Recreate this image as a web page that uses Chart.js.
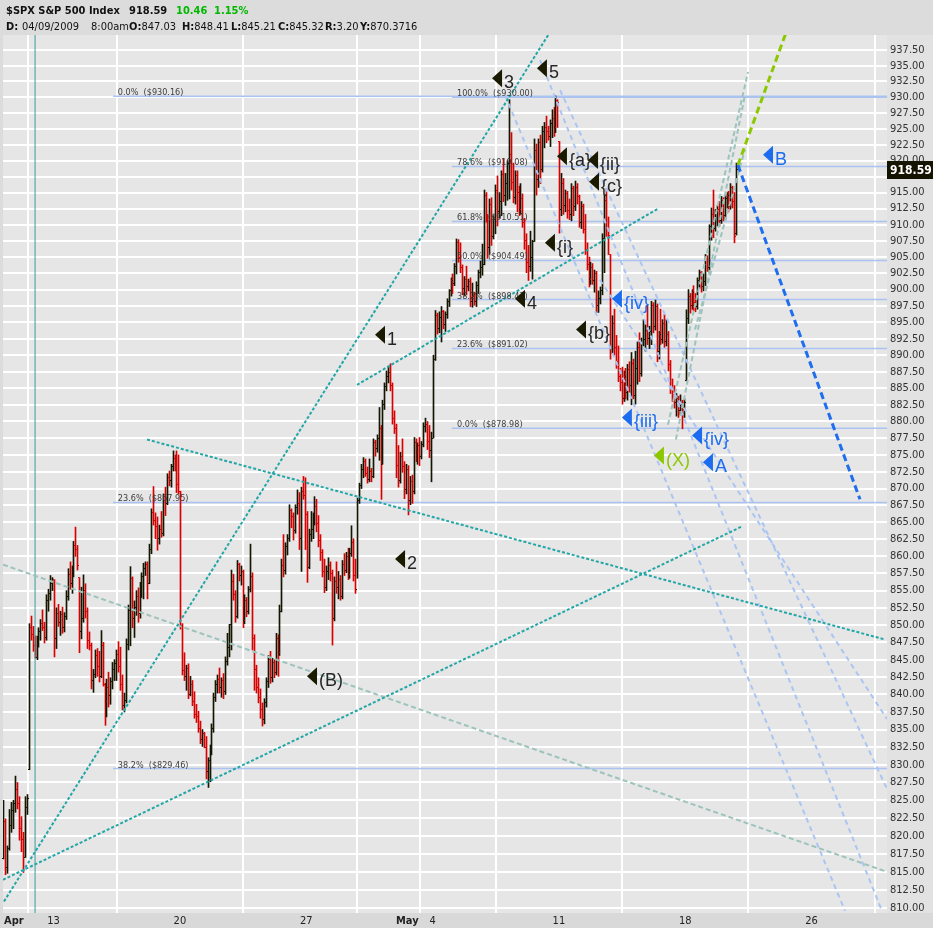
<!DOCTYPE html>
<html>
<head>
<meta charset="utf-8">
<script src="https://cdn.jsdelivr.net/npm/chart.js@4.4.1/dist/chart.umd.min.js"></script>
<style>
body { margin: 0; background: #dcdcdc; }
#wrap { position: relative; width: 933px; height: 928px; overflow: hidden; }
canvas { position: absolute; left: 0; top: 0; }
.hd { position: absolute; font-family: "DejaVu Sans Condensed", "DejaVu Sans", sans-serif; font-size: 11px; color: #111; white-space: pre; }
.b { font-weight: bold; }
.g { color: #00b800; font-weight: bold; }
</style>
</head>
<body>
<div id="wrap">
<canvas id="myChart" width="933" height="928"></canvas>
<div class="hd b" style="top:4px;left:6px">$SPX S&amp;P 500 Index</div>
<div class="hd b" style="top:4px;left:129px">918.59</div>
<div class="hd g" style="top:4px;left:176px">10.46</div>
<div class="hd g" style="top:4px;left:214px">1.15%</div>
<div class="hd" style="top:20px;left:6px"><span class="b">D:</span></div>
<div class="hd" style="top:20px;left:22px">04/09/2009</div>
<div class="hd" style="top:20px;left:91px">8:00am</div>
<div class="hd" style="top:20px;left:129px"><span class="b">O:</span>847.03</div>
<div class="hd" style="top:20px;left:182px"><span class="b">H:</span>848.41</div>
<div class="hd" style="top:20px;left:231px"><span class="b">L:</span>845.21</div>
<div class="hd" style="top:20px;left:278px"><span class="b">C:</span>845.32</div>
<div class="hd" style="top:20px;left:325px"><span class="b">R:</span>3.20</div>
<div class="hd" style="top:20px;left:360px"><span class="b">Y:</span>870.3716</div>
</div>
<script>
// 30-minute bars, [open, high, low, close], 13 per session
const apr08 = [[816.8,825.0,816.8,822.0],[822.0,822.4,814.6,815.6],[815.6,818.6,814.8,818.2],[818.2,823.7,818.0,821.5],[821.5,824.7,820.5,823.5],[823.5,825.0,821.0,824.5],[824.5,828.4,823.3,826.5],[826.5,827.5,823.8,824.5],[824.5,825.5,819.4,821.0],[821.0,822.7,817.8,819.5],[819.5,820.5,814.9,817.0],[817.0,825.5,817.0,824.0],[824.0,825.8,823.0,825.2]];
const apr09 = [[829.3,850.2,829.3,849.6],[849.6,851.3,847.8,848.6],[848.6,849.8,846.2,847.0],[847.03,848.41,845.21,845.32],[845.3,848.4,845.0,847.8],[847.8,849.6,846.8,849.0],[849.0,850.8,847.8,850.2],[850.2,852.2,849.2,849.6],[849.6,850.4,847.4,848.2],[848.2,854.4,847.8,853.6],[853.6,855.2,852.0,854.6],[854.6,857.2,853.6,856.0],[856.0,856.9,855.0,856.6]];
const apr13 = [[856.6,856.6,845.4,848.0],[848.0,852.5,846.6,851.6],[851.6,853.0,849.8,850.4],[850.4,852.0,848.5,851.5],[851.5,852.6,848.8,849.6],[849.6,851.8,849.0,851.2],[851.2,855.0,850.8,854.2],[854.2,858.2,853.6,857.4],[857.4,859.2,855.2,856.0],[856.0,858.6,854.6,857.6],[857.6,862.2,857.0,861.6],[861.6,864.3,860.0,861.0],[861.0,861.6,858.0,858.7]];
const apr14 = [[856.9,856.9,846.0,849.0],[849.0,855.5,848.0,851.0],[851.0,857.3,850.4,855.0],[855.0,856.0,851.0,852.0],[852.0,852.5,846.6,847.8],[847.8,849.0,846.4,847.0],[847.0,847.4,840.8,842.0],[842.0,843.6,840.3,842.8],[842.8,846.4,842.4,845.6],[845.6,846.6,842.6,844.0],[844.0,846.2,841.8,842.6],[842.6,849.2,842.4,847.0],[847.0,847.5,841.2,841.5]];
const apr15 = [[841.5,841.6,835.6,839.0],[839.0,842.2,836.8,841.0],[841.0,843.2,838.2,839.8],[839.8,842.4,838.6,841.8],[841.8,844.6,840.8,843.6],[843.6,845.0,842.0,844.4],[844.4,846.4,842.0,845.8],[845.8,847.6,843.2,844.0],[844.0,846.8,840.6,841.4],[841.4,842.8,837.8,838.4],[838.4,840.2,837.5,839.2],[839.2,848.0,838.8,847.2],[847.2,852.9,846.4,852.1]];
const apr16 = [[852.1,858.5,847.0,856.8],[856.8,857.0,849.6,851.0],[851.0,853.5,848.2,852.5],[852.5,855.0,851.4,854.2],[854.2,855.4,850.4,851.6],[851.6,856.2,851.0,855.6],[855.6,857.6,854.0,857.0],[857.0,859.0,853.8,858.2],[858.2,859.2,857.2,858.8],[858.8,859.2,853.8,856.0],[856.0,861.8,856.0,861.0],[861.0,867.0,860.4,866.4],[866.4,870.3,864.6,865.3]];
const apr17 = [[865.3,866.4,862.6,864.4],[864.4,865.8,860.9,862.6],[862.6,864.6,861.8,864.0],[864.0,866.6,862.8,863.4],[863.4,869.2,863.0,868.8],[868.8,870.2,866.0,867.8],[867.8,872.2,867.6,871.6],[871.6,872.6,870.4,871.2],[871.2,873.6,870.2,873.2],[873.2,875.6,872.6,874.4],[874.4,875.0,872.6,873.4],[873.4,875.6,869.4,870.6],[870.6,875.0,869.2,869.6]];
const apr20 = [[869.6,869.6,849.4,850.0],[850.0,850.2,842.8,843.4],[843.4,846.0,842.0,842.6],[842.6,844.2,840.6,843.8],[843.8,844.4,839.4,840.0],[840.0,842.6,839.8,841.4],[841.4,842.0,838.4,839.0],[839.0,840.4,836.6,837.2],[837.2,838.6,836.0,836.8],[836.8,837.6,834.6,835.2],[835.2,836.2,833.0,833.6],[833.6,835.0,832.6,834.4],[834.4,834.6,832.4,832.4]];
const apr21 = [[832.4,834.0,828.0,829.0],[829.0,831.0,826.8,830.6],[830.6,832.8,827.6,832.0],[832.0,835.8,831.4,835.2],[835.2,840.2,834.6,839.6],[839.6,842.0,839.0,841.4],[841.4,842.8,840.2,842.2],[842.2,843.8,840.2,841.0],[841.0,842.4,839.6,842.0],[842.0,843.0,839.4,840.4],[840.4,845.4,840.0,844.8],[844.8,848.8,844.2,846.8],[846.8,850.1,845.4,850.1]];
const apr22 = [[850.1,858.0,846.4,856.4],[856.4,857.4,853.6,854.4],[854.4,855.0,850.4,851.2],[851.2,859.4,851.0,858.8],[858.8,859.0,856.4,857.2],[857.2,858.6,855.8,857.8],[857.8,858.0,849.6,850.6],[850.6,854.4,850.2,853.6],[853.6,854.0,851.2,852.0],[852.0,855.6,851.6,855.2],[855.2,861.8,854.8,857.0],[857.0,857.6,846.4,848.0],[848.0,848.6,840.6,843.6]];
const apr23 = [[843.6,844.2,840.2,841.0],[841.0,842.4,838.8,839.6],[839.6,840.8,836.6,837.8],[837.8,838.8,835.5,836.4],[836.4,839.4,835.8,838.8],[838.8,842.4,838.2,841.8],[841.8,845.6,841.0,845.0],[845.0,846.2,841.6,842.4],[842.4,845.2,841.8,844.6],[844.6,845.0,842.4,843.2],[843.2,848.8,842.8,848.0],[848.0,848.6,842.6,846.0],[846.0,852.9,845.6,851.9]];
const apr24 = [[851.9,859.6,851.9,858.6],[858.6,863.2,857.0,858.0],[858.0,862.0,857.4,861.4],[861.4,863.2,860.2,862.6],[862.6,867.6,862.2,866.8],[866.8,867.0,864.2,865.8],[865.8,866.4,862.4,863.8],[863.8,867.6,863.4,867.2],[867.2,869.8,866.2,867.8],[867.8,869.4,861.0,862.6],[862.6,870.2,857.8,869.6],[869.6,871.8,868.4,869.0],[869.0,871.6,861.0,866.2]];
const apr27 = [[866.2,866.6,856.2,858.4],[858.4,864.0,858.2,863.2],[863.2,866.6,862.2,864.0],[864.0,866.4,862.6,865.6],[865.6,868.8,864.6,867.4],[867.4,868.4,863.6,864.8],[864.8,866.0,861.4,862.4],[862.4,863.2,859.4,860.6],[860.6,861.0,857.0,857.8],[857.8,859.6,854.7,855.4],[855.4,858.6,855.0,857.8],[857.8,859.8,856.6,858.6],[858.6,859.2,856.4,857.5]];
const apr28 = [[857.5,858.0,847.1,851.0],[851.0,857.0,850.6,856.4],[856.4,859.2,854.6,855.4],[855.4,857.8,853.8,856.6],[856.6,857.2,853.6,854.2],[854.2,859.4,853.8,858.8],[858.8,860.4,857.2,858.0],[858.0,860.6,857.6,860.0],[860.0,861.2,856.6,857.4],[857.4,861.2,856.8,860.4],[860.4,864.5,860.0,862.0],[862.0,862.6,856.4,857.2],[857.2,859.6,854.6,855.2]];
const apr29 = [[855.2,868.6,856.8,868.2],[868.2,870.8,867.8,870.4],[870.4,873.6,870.0,872.8],[872.8,874.6,871.6,874.0],[874.0,874.4,871.8,872.2],[872.2,873.2,870.8,871.4],[871.4,874.4,871.0,872.6],[872.6,873.0,871.0,871.8],[871.8,877.4,871.6,876.8],[876.8,877.2,874.8,876.0],[876.0,878.0,875.4,877.4],[877.4,882.1,874.2,879.0],[879.0,879.4,868.4,873.6]];
const apr30 = [[873.6,883.2,873.6,882.6],[882.6,885.8,881.8,885.2],[885.2,887.6,884.6,886.8],[886.8,888.2,885.8,887.4],[887.4,888.7,884.6,885.4],[885.4,885.8,879.6,880.4],[880.4,881.6,878.2,879.0],[879.0,879.6,871.6,873.4],[873.4,876.4,870.2,871.2],[871.2,875.4,870.8,874.8],[874.8,877.4,872.4,873.2],[873.2,874.0,868.5,869.8],[869.8,873.6,869.2,872.8]];
const may01 = [[872.8,873.4,866.1,868.2],[868.2,871.8,867.6,871.0],[871.0,872.0,867.8,869.6],[869.6,877.6,869.2,876.8],[876.8,877.4,874.0,875.4],[875.4,876.8,873.6,876.4],[876.4,877.6,873.4,874.8],[874.8,877.0,874.4,876.6],[876.6,879.8,876.2,879.2],[879.2,880.5,878.4,879.6],[879.6,880.0,875.8,877.0],[877.0,879.4,874.6,875.6],[875.6,878.4,871.0,877.5]];
const may04 = [[877.5,890.0,877.5,889.4],[889.4,896.8,889.2,896.0],[896.0,896.4,893.2,894.0],[894.0,896.6,893.4,895.8],[895.8,897.4,892.0,896.6],[896.6,896.8,894.0,894.6],[894.6,896.6,893.6,896.2],[896.2,898.6,895.6,898.2],[898.2,900.0,897.4,899.8],[899.8,901.8,899.0,901.4],[901.4,902.4,899.4,901.0],[901.0,904.0,900.6,903.6],[903.6,907.8,902.4,907.2]];
const may05 = [[907.2,907.7,904.2,905.0],[905.0,907.2,902.6,903.4],[903.4,903.8,899.2,900.2],[900.2,902.0,899.0,901.6],[901.6,903.6,899.2,900.4],[900.4,901.6,899.8,901.2],[901.2,901.8,897.4,898.2],[898.2,901.0,897.3,899.0],[899.0,899.6,897.6,898.2],[898.2,901.2,897.4,900.6],[900.6,903.0,899.4,902.6],[902.6,904.4,901.8,903.4],[903.4,907.0,902.2,903.8]];
const may06 = [[903.8,915.4,903.8,914.6],[914.6,915.0,910.4,911.0],[911.0,911.6,904.8,906.4],[906.4,914.0,905.4,913.2],[913.2,914.2,906.8,908.2],[908.2,911.4,907.8,910.8],[910.8,916.2,908.6,915.4],[915.4,917.6,909.8,912.0],[912.0,915.0,911.0,913.6],[913.6,918.4,911.4,917.8],[917.8,920.3,913.6,914.6],[914.6,918.0,913.0,916.4],[916.4,920.0,913.8,919.5]];
const may07 = [[919.6,929.6,914.0,921.0],[921.0,924.4,915.4,916.6],[916.6,919.6,913.4,914.2],[914.2,918.4,913.2,917.6],[917.6,918.4,912.0,915.0],[915.0,916.0,911.4,912.4],[912.4,916.4,911.6,914.0],[914.0,914.8,909.6,910.4],[910.4,911.0,906.2,907.6],[907.6,908.6,902.6,904.2],[904.2,906.8,901.4,903.6],[903.6,909.0,902.8,905.0],[905.0,907.6,901.6,907.4]];
const may08 = [[907.4,923.4,907.4,921.6],[921.6,922.6,914.6,917.0],[917.0,923.4,915.8,922.8],[922.8,924.0,916.4,918.6],[918.6,925.4,918.2,924.6],[924.6,926.0,922.0,925.2],[925.2,927.0,922.8,924.6],[924.6,925.4,923.2,923.8],[923.8,926.4,922.2,925.8],[925.8,928.0,923.6,926.6],[926.6,928.4,923.8,925.2],[925.2,930.2,924.4,929.4],[929.4,929.6,925.2,929.2]];
const may11 = [[923.0,923.0,908.7,912.4],[912.4,918.0,911.4,916.4],[916.4,917.2,911.6,913.0],[913.0,915.4,912.0,914.8],[914.8,915.2,911.0,912.2],[912.2,914.0,910.8,911.6],[911.6,916.4,910.6,915.6],[915.6,916.0,911.4,912.8],[912.8,916.8,912.2,915.8],[915.8,916.4,913.2,914.4],[914.4,914.6,909.6,910.4],[910.4,913.6,909.4,912.8],[912.8,913.2,908.7,909.2]];
const may12 = [[909.2,911.6,905.4,906.2],[906.2,907.2,903.0,903.8],[903.8,905.0,900.4,901.6],[901.6,904.2,900.8,903.4],[903.4,904.0,900.8,901.4],[901.4,903.0,899.6,902.4],[902.4,902.8,896.5,897.6],[897.6,899.8,896.5,898.6],[898.6,900.4,897.8,899.8],[899.8,908.6,899.2,907.8],[907.8,914.6,902.6,913.8],[913.8,915.6,908.2,909.6],[909.6,911.2,905.4,908.4]];
const may13 = [[905.4,905.4,889.4,891.0],[891.0,896.0,890.2,894.8],[894.8,897.0,890.0,891.2],[891.2,893.0,888.0,889.0],[889.0,891.4,886.0,886.8],[886.8,888.0,884.6,885.8],[885.8,888.2,882.6,883.4],[883.4,887.6,883.0,886.8],[886.8,888.0,883.4,884.4],[884.4,888.6,883.2,887.8],[887.8,889.0,884.4,885.4],[885.4,890.4,882.5,888.8],[888.8,889.4,883.4,883.9]];
const may14 = [[883.9,890.6,882.6,888.0],[888.0,892.0,885.6,891.2],[891.2,893.4,886.0,887.2],[887.2,892.6,886.8,891.8],[891.8,895.4,891.4,892.4],[892.4,894.6,890.6,893.8],[893.8,897.6,891.6,892.6],[892.6,894.4,891.0,893.6],[893.6,898.2,891.6,897.6],[897.6,898.0,893.4,894.4],[894.4,898.4,893.8,897.4],[897.4,897.8,889.0,890.6],[890.6,893.6,889.4,893.1]];
const may15 = [[893.1,897.0,891.6,892.4],[892.4,895.4,891.8,894.8],[894.8,896.2,891.2,892.0],[892.0,895.4,891.4,893.2],[893.2,893.6,887.6,888.6],[888.6,889.2,884.2,885.0],[885.0,886.4,883.0,884.0],[884.0,885.4,882.0,882.8],[882.8,884.2,880.8,883.4],[883.4,883.8,880.6,881.6],[881.6,884.0,881.0,882.6],[882.6,883.2,878.9,881.8],[881.8,883.4,880.6,882.9]];
const may18 = [[886.1,896.9,886.1,895.6],[895.6,900.0,894.8,899.0],[899.0,899.4,896.4,897.6],[897.6,900.0,897.0,899.6],[899.6,900.6,896.8,898.0],[898.0,899.4,896.6,897.4],[897.4,901.8,897.0,901.4],[901.4,903.0,900.2,902.6],[902.6,902.8,899.6,900.4],[900.4,902.4,899.8,901.2],[901.2,905.4,900.6,904.8],[904.8,905.2,902.8,903.4],[903.4,910.0,902.6,909.7]];
const may19 = [[909.7,912.6,907.6,911.6],[911.6,915.4,908.0,909.4],[909.4,912.4,909.0,911.8],[911.8,913.0,909.8,912.4],[912.4,913.6,909.8,910.6],[910.6,914.4,910.2,913.8],[913.8,914.2,910.6,911.4],[911.4,914.6,910.8,914.0],[914.0,915.0,912.6,914.6],[914.6,915.2,912.0,912.8],[912.8,916.4,912.4,915.8],[915.8,916.0,912.6,913.6],[913.6,915.0,907.2,908.1]];
const may20 = [[908.6,919.6,908.4,918.59]];

const days = [apr08, apr09, apr13, apr14, apr15, apr16, apr17, apr20, apr21, apr22, apr23, apr24, apr27, apr28, apr29, apr30,
  may01, may04, may05, may06, may07, may08, may11, may12, may13, may14, may15, may18, may19, may20];

// x axis: session index where each label sits (26 = May 26, beyond the data)
const xLabels = ['Apr', '13', '20', '27', 'May', '4', '11', '18', '26'];
const xLabelDays = [0, 2, 7, 12, 16, 17, 22, 27, 32];

const yTicks = [810,812.5,815,817.5,820,822.5,825,827.5,830,832.5,835,837.5,840,842.5,845,847.5,850,852.5,855,857.5,
  860,862.5,865,867.5,870,872.5,875,877.5,880,882.5,885,887.5,890,892.5,895,897.5,900,902.5,905,907.5,
  910,912.5,915,917.5,920,922.5,925,927.5,930,932.5,935,937.5];

// fibonacci retracements [label, price]
const fibOld = [['0.0%', 930.16], ['23.6%', 867.95], ['38.2%', 829.46]];
const fibNew = [['100.0%', 930.00], ['78.6%', 919.08], ['61.8%', 910.51], ['50.0%', 904.49], ['38.2%', 898.47], ['23.6%', 891.02], ['0.0%', 878.98]];

// trend lines, [[bar, price], [bar, price]]
const tealLines = [
  [[0, 810.9], [280, 939.9]],
  [[-0.5, 813.9], [379.7, 864.4]],
  [[73.6, 877.3], [453.3, 847.9]],
  [[181.6, 885.5], [336.5, 912.5]]
];
const greyLines = [
  [[-0.5, 858.8], [454.3, 815.0]],
  [[341.6, 879.5], [382.8, 934.0]],
  [[345.7, 877.3], [381.2, 930.3]],
  [[355.5, 893.9], [381.2, 921.7]]
];
const blueLines = [
  [[257.8, 930.3], [432.7, 809.6]],
  [[275.8, 935.9], [451.7, 809.6]],
  [[286.1, 931.1], [454.3, 826.6]],
  [[306.6, 901.5], [454.3, 836.5]]
];
const projDown = [[377.6, 919.3], [440.4, 868.4]];
const projUp = [[377.6, 919.3], [404.7, 942.3]];
const cursorBar = 16;

// wave labels [text, bar, price, colour]
const waves = [
  ['3', 251.1, 933.0, 'k'], ['5', 274.2, 934.6, 'k'], ['1', 190.9, 893.1, 'k'], ['2', 201.2, 859.6, 'k'],
  ['4', 262.9, 898.6, 'k'], ['(B)', 155.9, 842.6, 'k'], ['{a}', 284.5, 920.7, 'k'], ['{ii}', 300.5, 920.1, 'k'],
  ['{c}', 301.0, 916.7, 'k'], ['{i}', 278.3, 907.2, 'k'], ['{b}', 294.3, 893.9, 'k'],
  ['{iv}', 312.8, 898.6, 'b'], ['{iii}', 317.9, 880.6, 'b'], ['{iv}', 354.0, 877.9, 'b'], ['A', 359.6, 873.9, 'b'],
  ['B', 390.5, 920.9, 'b'], ['(X)', 334.4, 874.9, 'g']
];
const lastPrice = 918.59;

const RED = '#d80000', BLK = '#151500';
const waveTri = { k: '#1a1a00', b: '#1c6cf0', g: '#8cc800' };
const waveTxt = { k: '#262626', b: '#1c6cf0', g: '#8cc800' };
const FONT = '"DejaVu Sans Condensed", "DejaVu Sans", sans-serif';

const bars = days.flat();
const xMin = -0.5, xMax = 454.3, yMin = 809.3, yMax = 939.9;

function seg(pts, color, width, dash, order) {
  return {
    type: 'line', data: pts.map(p => ({ x: p[0], y: p[1] })), borderColor: color, borderWidth: width,
    borderDash: dash, pointRadius: 0, fill: false, tension: 0, order: order
  };
}

const datasets = [{
  type: 'bar',
  data: bars.map((b, i) => ({ x: i, y: [b[2], b[1]] })),
  backgroundColor: bars.map((b, i) => (i > 0 && b[3] < bars[i - 1][3]) ? RED : BLK),
  barThickness: 1,
  order: 5
}];
fibOld.forEach(f => datasets.push(seg([[56.1, f[1]], [xMax, f[1]]], '#abc3f0', 1.5, [], 10)));
fibNew.forEach(f => datasets.push(seg([[230.4, f[1]], [xMax, f[1]]], '#abc3f0', 1.5, [], 10)));
datasets.push(seg([[cursorBar, yMin], [cursorBar, yMax]], '#3c9c9c', 1, [], 2));
tealLines.forEach(l => datasets.push(seg(l, '#22a6a6', 2, [3, 2], 1)));
greyLines.forEach(l => datasets.push(seg(l, '#9cc3bc', 2, [5, 3], 1)));
blueLines.forEach(l => datasets.push(seg(l, '#abc5f3', 2, [5, 4], 1)));
datasets.push(seg(projDown, '#1f6ef0', 3, [7, 4], 0));
datasets.push(seg(projUp, '#8cc800', 3, [7, 4], 0));

const ohlcPlugin = {
  id: 'ohlc',
  beforeDraw(chart) {
    const { ctx, chartArea: a, width, height } = chart;
    ctx.save();
    ctx.fillStyle = '#dcdcdc';
    ctx.fillRect(0, 0, width, height);
    ctx.fillStyle = '#e6e6e6';
    ctx.fillRect(a.left, a.top, a.right - a.left, a.bottom - a.top);
    ctx.fillStyle = '#e2e2e2';
    ctx.fillRect(a.right, a.top, width - a.right, a.bottom - a.top);
    ctx.fillStyle = '#d9d9d9';
    ctx.fillRect(0, a.bottom, width, height - a.bottom);
    ctx.restore();
  },
  beforeDatasetDraw(chart, args) {
    if (args.index !== 0) return;
    args.meta.data.forEach(el => { el.x = Math.floor(el.x) + 0.5; el.width = 1; });
  },
  afterDatasetDraw(chart, args) {
    if (args.index !== 0) return;
    const ctx = chart.ctx, y = chart.scales.y;
    ctx.save();
    args.meta.data.forEach((el, i) => {
      const b = bars[i], x0 = Math.floor(el.x);
      ctx.fillStyle = datasets[0].backgroundColor[i];
      ctx.fillRect(x0 - 1, Math.floor(y.getPixelForValue(b[0])), 1, 1);
      ctx.fillRect(x0 + 1, Math.floor(y.getPixelForValue(b[3])), 1, 1);
    });
    ctx.restore();
  },
  afterDatasetsDraw(chart) {
    const ctx = chart.ctx, xs = chart.scales.x, ys = chart.scales.y;
    ctx.save();
    ctx.font = '9px ' + FONT;
    ctx.fillStyle = '#3c3c3c';
    ctx.textBaseline = 'alphabetic';
    fibOld.forEach(f => ctx.fillText(f[0] + '  ($' + f[1].toFixed(2) + ')', xs.getPixelForValue(58.6), ys.getPixelForValue(f[1]) - 1));
    fibNew.forEach(f => ctx.fillText(f[0] + '  ($' + f[1].toFixed(2) + ')', xs.getPixelForValue(233.1), ys.getPixelForValue(f[1]) - 1));
    waves.forEach(w => {
      const x = xs.getPixelForValue(w[1]), y = ys.getPixelForValue(w[2]);
      ctx.fillStyle = waveTri[w[3]];
      ctx.beginPath();
      ctx.moveTo(x, y);
      ctx.lineTo(x + 10, y - 9);
      ctx.lineTo(x + 10, y + 9);
      ctx.closePath();
      ctx.fill();
    });
    ctx.font = '18px "Liberation Sans", Arial, sans-serif';
    waves.forEach(w => {
      const x = xs.getPixelForValue(w[1]), y = ys.getPixelForValue(w[2]);
      ctx.fillStyle = waveTxt[w[3]];
      ctx.fillText(w[0], x + 12, y + 10);
    });
    ctx.restore();
  },
  afterDraw(chart) {
    const ctx = chart.ctx, xs = chart.scales.x, ys = chart.scales.y, a = chart.chartArea;
    ctx.save();
    ctx.fillStyle = '#222';
    ctx.textBaseline = 'middle';
    xLabels.forEach((t, i) => {
      const bold = isNaN(Number(t));
      ctx.font = (bold ? 'bold ' : '') + '11px ' + FONT;
      ctx.textAlign = i === 0 ? 'left' : 'center';
      ctx.fillText(t, xs.getPixelForValue(xLabelDays[i] * 13 - 0.5) + (i === 0 ? 1 : 0), a.bottom + 8);
    });
    const y = Math.round(ys.getPixelForValue(lastPrice));
    ctx.fillStyle = '#141400';
    ctx.fillRect(a.right, y - 9, chart.width - a.right, 18);
    ctx.fillStyle = '#ffffff';
    ctx.font = 'bold 12px ' + FONT;
    ctx.textAlign = 'left';
    ctx.fillText(lastPrice.toFixed(2), a.right + 3, y + 1);
    ctx.restore();
  }
};

const ctx = document.getElementById('myChart').getContext('2d');
const myChart = new Chart(ctx, {
  type: 'bar',
  data: { datasets: datasets },
  options: {
    responsive: false,
    animation: false,
    events: [],
    layout: { padding: { top: 35, left: 3, right: 0, bottom: 0 } },
    plugins: { legend: { display: false }, tooltip: { enabled: false } },
    scales: {
      x: {
        type: 'linear', min: xMin, max: xMax, offset: false,
        afterBuildTicks: s => { s.ticks = xLabelDays.map(d => ({ value: d * 13 - 0.5 })); },
        afterFit: s => { s.height = 15; },
        ticks: { display: false },
        grid: { color: '#ffffff', lineWidth: 2, drawTicks: false },
        border: { display: false }
      },
      y: {
        type: 'logarithmic', position: 'right', min: yMin, max: yMax,
        afterBuildTicks: s => { s.ticks = yTicks.map(v => ({ value: v })); },
        afterFit: s => { s.width = 46; },
        ticks: {
          autoSkip: false, padding: 3, color: '#333',
          font: { family: FONT, size: 11 },
          callback: v => Number(v).toFixed(2)
        },
        grid: { color: '#ffffff', lineWidth: 2, drawTicks: false },
        border: { display: false }
      }
    }
  },
  plugins: [ohlcPlugin]
});
</script>
</body>
</html>
